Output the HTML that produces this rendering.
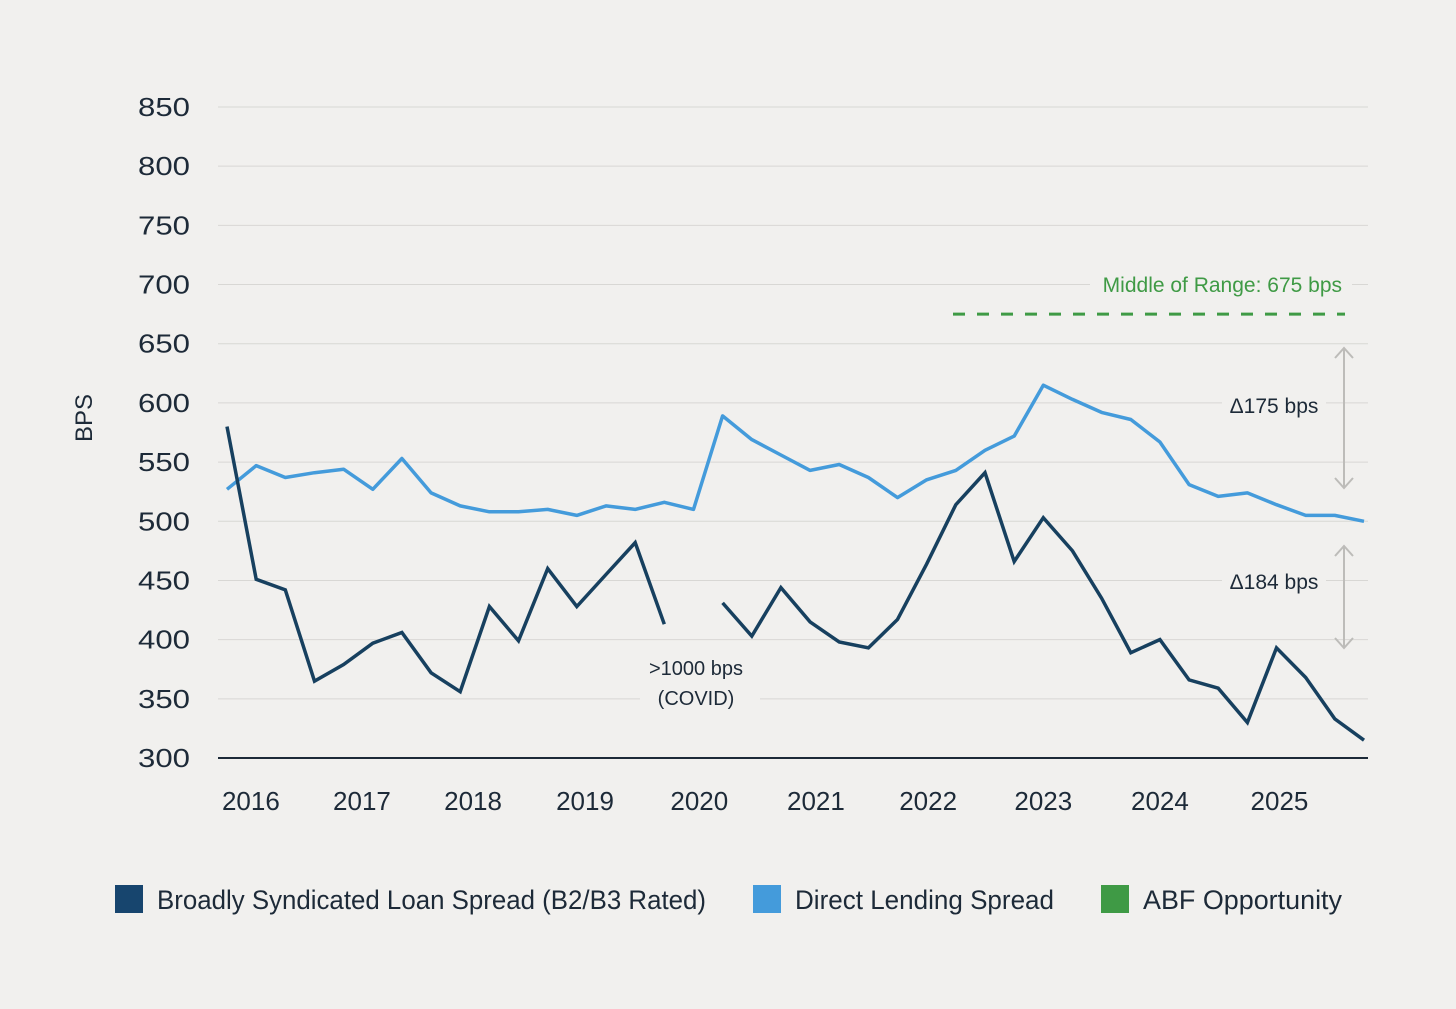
<!DOCTYPE html>
<html><head><meta charset="utf-8">
<style>
html,body{margin:0;padding:0;background:#f1f0ee;}
svg{display:block;font-family:"Liberation Sans",sans-serif;}
</style></head>
<body>
<svg id="chart" width="1456" height="1009" viewBox="0 0 1456 1009">
<rect x="0" y="0" width="1456" height="1009" fill="#f1f0ee"/>
<g id="grid"></g>
<g id="yticks"></g>
<g id="xticks"></g>
<g id="series"></g>
<g id="annot"></g>
<text x="92" y="418" transform="rotate(-90 92 418)" text-anchor="middle" font-size="24" fill="#1d2a38">BPS</text>
<g>
 <rect x="115" y="885" width="28" height="28" fill="#17456e"/>
 <text x="157" y="909" font-size="27" fill="#1d2a38" textLength="549" lengthAdjust="spacingAndGlyphs">Broadly Syndicated Loan Spread (B2/B3 Rated)</text>
 <rect x="753" y="885" width="28" height="28" fill="#449bdb"/>
 <text x="795" y="909" font-size="27" fill="#1d2a38" textLength="259" lengthAdjust="spacingAndGlyphs">Direct Lending Spread</text>
 <rect x="1101" y="885" width="28" height="28" fill="#3f9a45"/>
 <text x="1143" y="909" font-size="27" fill="#1d2a38" textLength="199" lengthAdjust="spacingAndGlyphs">ABF Opportunity</text>
</g>
</svg>
<script>
const yTicks=[300,350,400,450,500,550,600,650,700,750,800,850];
const yearLabels=["2016","2017","2018","2019","2020","2021","2022","2023","2024","2025"];
const yearPos=[0.82,4.63,8.44,12.28,16.2,20.2,24.05,28.0,32.0,36.1];
const directLending=[527,547,537,541,544,527,553,524,513,508,508,510,505,513,510,516,510,589,569,556,543,548,537,520,535,543,560,572,615,603,592,586,567,531,521,524,514,505,505,500];
const bsl=[580,451,442,365,379,397,406,372,356,428,399,460,428,455,482,413,null,431,403,444,415,398,393,417,464,514,541,466,503,475,435,389,400,366,359,330,393,368,333,315];
const abfMid=675;
const bandTop=[648,546];
const bandBottom=[488,648];

const NS="http://www.w3.org/2000/svg";
const x0=227,x1=1364,yBase=758,yTop=107;
const n=directLending.length;
function X(i){return x0+i*(x1-x0)/(n-1);}
function Y(v){return yBase-(v-300)*(yBase-yTop)/(850-300);}
function mk(tag,attrs,parent,txt){const e=document.createElementNS(NS,tag);for(const k in attrs)e.setAttribute(k,attrs[k]);if(txt!=null)e.textContent=txt;document.getElementById(parent).appendChild(e);return e;}

yTicks.forEach(v=>{
  const g=mk('line',{x1:218,x2:1368,y1:Y(v),y2:Y(v),stroke:v===300?'#1d2a38':'#d8d7d4','stroke-width':v===300?2:1},'grid');
  
  
  const t=mk('text',{x:190,y:Y(v)+9,'text-anchor':'end','font-size':26,fill:'#1d2a38',textLength:52,lengthAdjust:'spacingAndGlyphs'},'yticks',String(v));
  
  
});
yearLabels.forEach((lab,i)=>{
  const t=mk('text',{x:X(yearPos[i]),y:810,'text-anchor':'middle','font-size':26,fill:'#1d2a38'},'xticks',lab);
  
  
});
function path(arr){let d='',pen=false;arr.forEach((v,i)=>{if(v==null){pen=false;return;}d+=(pen?'L':'M')+X(i).toFixed(1)+','+Y(v).toFixed(1);pen=true;});return d;}
const pd=mk('path',{d:path(directLending),fill:'none',stroke:'#449bdb','stroke-width':3.5,'stroke-linejoin':'round'},'series');


const pb=mk('path',{d:path(bsl),fill:'none',stroke:'#17405f','stroke-width':3.5,'stroke-linejoin':'miter'},'series');



const bg=mk('rect',{x:1090,y:266,width:262,height:32,fill:'#f1f0ee'},'annot');


const gl=mk('line',{x1:953,x2:1345,y1:Y(abfMid),y2:Y(abfMid),stroke:'#3f9a45','stroke-width':3,'stroke-dasharray':'12 12'},'annot');


const gt=mk('text',{x:1342,y:292,'text-anchor':'end','font-size':21,fill:'#3f9a45'},'annot','Middle of Range: 675 bps');


[['Δ175 bps',406],['Δ184 bps',582]].forEach((a,i)=>{
  const r=mk('rect',{x:1222,y:a[1]-18,width:104,height:34,fill:'#f1f0ee'},'annot');
  
  
  const t=mk('text',{x:1274,y:a[1]+7,'text-anchor':'middle','font-size':21,fill:'#1d2a38'},'annot',a[0]);
  
  
  const top=bandTop[i]===648?348:546, bot=bandBottom[i];
  const ar=mk('path',{d:`M1344,${top}V${bot} M1335,${top+10}L1344,${top}L1353,${top+10} M1335,${bot-10}L1344,${bot}L1353,${bot-10}`,fill:'none',stroke:'#bdbcb9','stroke-width':2},'annot');
  
  
});
const cb=mk('rect',{x:640,y:650,width:120,height:64,fill:'#f1f0ee'},'annot');


const c1=mk('text',{x:696,y:675,'text-anchor':'middle','font-size':20,fill:'#1d2a38'},'annot','>1000 bps');


const c2=mk('text',{x:696,y:705,'text-anchor':'middle','font-size':20,fill:'#1d2a38'},'annot','(COVID)');


</script>
</body></html>
